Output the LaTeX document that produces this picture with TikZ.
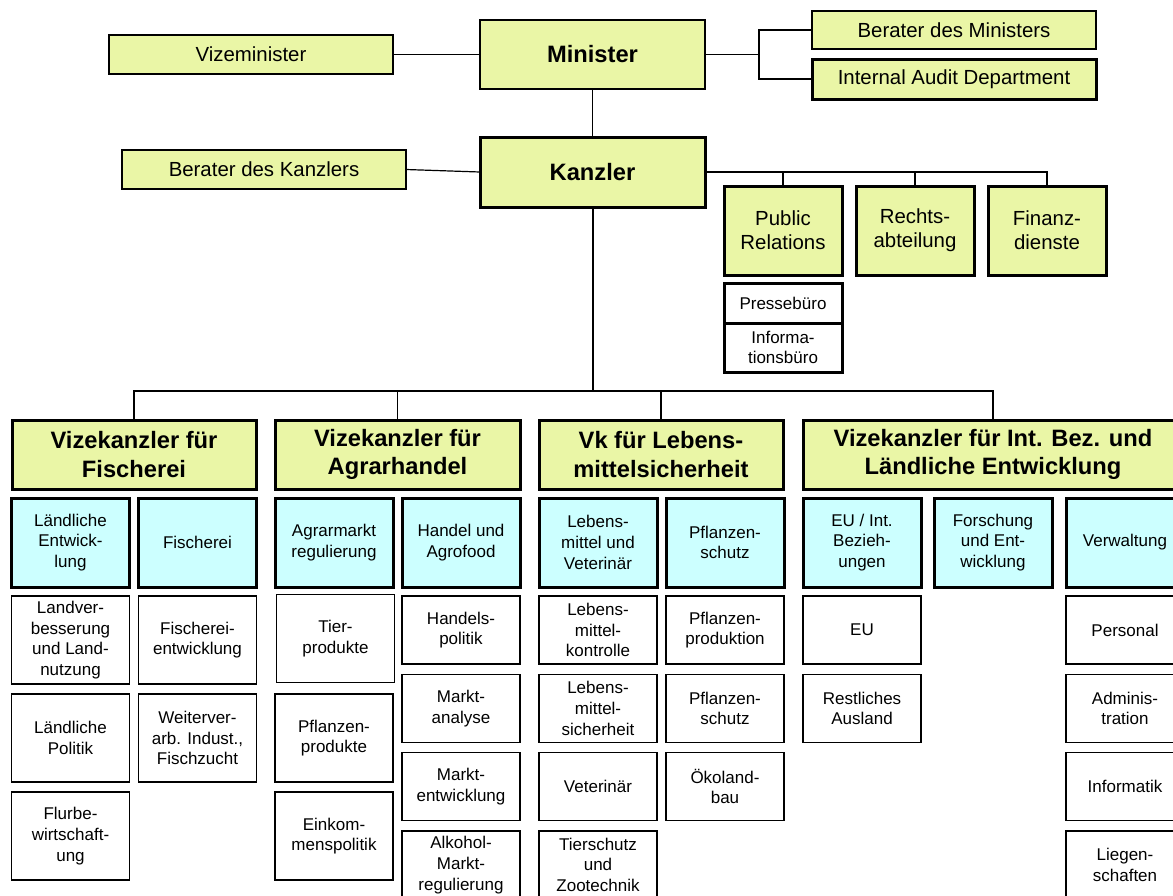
\documentclass[tikz,border=0pt]{standalone}
\usepackage{fontspec}
\setmainfont{Liberation Sans}
\usepackage{xcolor}
\usetikzlibrary{positioning, calc}
\definecolor{gelb}{RGB}{234,246,166}
\definecolor{blau}{RGB}{204,255,255}

\tikzset{
    box/.style={draw, rectangle, inner sep=0pt, outer sep=0pt, align=center, line width=0.65pt},
    mittel/.style={font=\fontsize{10.2}{12}\selectfont},
    klein/.style={font=\fontsize{8.5}{10.35}\selectfont},
    fett/.style={font=\fontsize{11.85}{14.2}\selectfont\bfseries},
    stab/.style={box, mittel, fill=gelb, minimum width=142pt, minimum height=19.5pt},
    chef/.style={box, fett, fill=gelb, minimum width=112.5pt, minimum height=34.5pt},
    dienst/.style={box, mittel, fill=gelb, line width=1.5pt, minimum width=59pt, minimum height=44.5pt},
    buero/.style={box, klein, line width=1.5pt, minimum width=59pt},
    vk/.style={box, fett, fill=gelb, line width=1.5pt, minimum height=34.5pt},
    abt/.style={box, klein, fill=blau, line width=1.5pt, minimum width=59pt, minimum height=44.5pt},
    ref/.style={box, klein, minimum width=59pt},
    lang/.style={ref, minimum height=44pt},
    kurz/.style={ref, minimum height=34pt},
    linie/.style={line width=0.6pt}
}

\begin{document}
\begin{tikzpicture}[x=0.5pt, y=-0.5pt]
    \useasboundingbox (0,0) rectangle (1173,895);
    \clip (0,0) rectangle (1173,895);

    % Leitung
    \node[stab] (vizemin) at (251,54.5) {Vizeminister};
    \node[chef] (minister) at (592.5,54.5) {Minister};
    \node[stab, minimum height=19pt] (beratmin) at (954,30) {Berater des Ministers};
    \node[stab, line width=1.5pt, minimum height=20pt] (audit) at (954,79) {Internal Audit Department};
    \node[chef, line width=1.5pt, minimum height=35pt] (kanzler) at (592.5,172) {Kanzler};
    \node[stab] (beratkanz) at (264,169.5) {Berater des Kanzlers};
    \coordinate (mj) at (759,54.5);
    \coordinate (bus) at (592.5,391);

    \draw[linie] (vizemin) -- (minister);
    \draw[linie] (minister) -- (mj);
    \draw[linie] (beratmin.west) -| (mj) |- (audit.west);
    \draw[linie] (minister) -- (kanzler);
    \draw[linie] (beratkanz.east) -- (kanzler.west);

    % Stabsstellen
    \node[dienst] (pr) at (783,230.5) {Public\\Relations};
    \node[dienst] (recht) at (915,230.5) {Rechts-\\abteilung};
    \node[dienst] (finanz) at (1047,230.5) {Finanz-\\dienste};
    \node[buero, minimum height=20pt] (presse) at (783,303) {Pressebüro};
    \node[buero, minimum height=24.5pt, below=0pt of presse] (info) {Informa-\\tionsbüro};
    \foreach \n in {pr, recht, finanz}
        \draw[linie] (\n.north) |- (kanzler.east);

    % Vizekanzler
    \node[vk, minimum width=122pt] (vk1) at (134,454.5) {Vizekanzler für\\Fischerei};
    \node[vk, minimum width=122.5pt] (vk2) at (397.5,454.5) {Vizekanzler für\\Agrarhandel};
    \node[vk, minimum width=122pt] (vk3) at (661,454.5) {Vk für Lebens-\\mittelsicherheit};
    \node[vk, minimum width=190pt] (vk4) at (993,454.5) {Vizekanzler für Int. Bez. und\\Ländliche Entwicklung};
    \draw[line width=1pt] (kanzler) -- (bus);
    \foreach \n in {vk1, vk2, vk3, vk4}
        \draw[linie] (\n.north) |- (bus);

    % Abteilungen
    \foreach \x/\t [count=\i] in {70.5/{Ländliche\\Entwick-\\lung}, 197.5/Fischerei,
            334/{Agrarmarkt\\regulierung}, 461/{Handel und\\Agrofood},
            598/{Lebens-\\mittel und\\Veterinär}, 725/{Pflanzen-\\schutz},
            862/{EU / Int.\\Bezieh-\\ungen}, 993/{Forschung\\und Ent-\\wicklung}, 1125/Verwaltung}
        \node[abt] (abt\i) at (\x,542.5) {\t};

    % Referate
    \foreach \t [count=\i] in {{Landver-\\besserung\\und Land-\\nutzung}, {Ländliche\\Politik}, {Flurbe-\\wirtschaft-\\ung}}
        \node[lang] (r1-\i) at (70.5,{640+98*(\i-1)}) {\t};
    \foreach \t [count=\i] in {{Fischerei-\\entwicklung}, {Weiterver-\\arb. Indust.,\\Fischzucht}}
        \node[lang] (r2-\i) at (197.5,{640+98*(\i-1)}) {\t};
    \node[lang] (r3-1) at (335.5,638.5) {Tier-\\produkte};
    \foreach \t [count=\i from 2] in {{Pflanzen-\\produkte}, {Einkom-\\menspolitik}}
        \node[lang] (r3-\i) at (334,{640+98*(\i-1)}) {\t};
    \foreach \t [count=\i] in {{Handels-\\politik}, {Markt-\\analyse}, {Markt-\\entwicklung}, {Alkohol-\\Markt-\\regulierung}}
        \node[kurz] (r4-\i) at (461,{630+78.3*(\i-1)}) {\t};
    \foreach \t [count=\i] in {{Lebens-\\mittel-\\kontrolle}, {Lebens-\\mittel-\\sicherheit}, Veterinär, {Tierschutz\\und\\Zootechnik}}
        \node[kurz] (r5-\i) at (598,{630+78.3*(\i-1)}) {\t};
    \foreach \t [count=\i] in {{Pflanzen-\\produktion}, {Pflanzen-\\schutz}, {Ökoland-\\bau}}
        \node[kurz] (r6-\i) at (725,{630+78.3*(\i-1)}) {\t};
    \foreach \t [count=\i] in {EU, {Restliches\\Ausland}}
        \node[kurz] (r7-\i) at (862,{630+78.3*(\i-1)}) {\t};
    \foreach \t [count=\i] in {Personal, {Adminis-\\tration}, Informatik, {Liegen-\\schaften}}
        \node[kurz] (r9-\i) at (1125,{630+78.3*(\i-1)}) {\t};
\end{tikzpicture}
\end{document}
